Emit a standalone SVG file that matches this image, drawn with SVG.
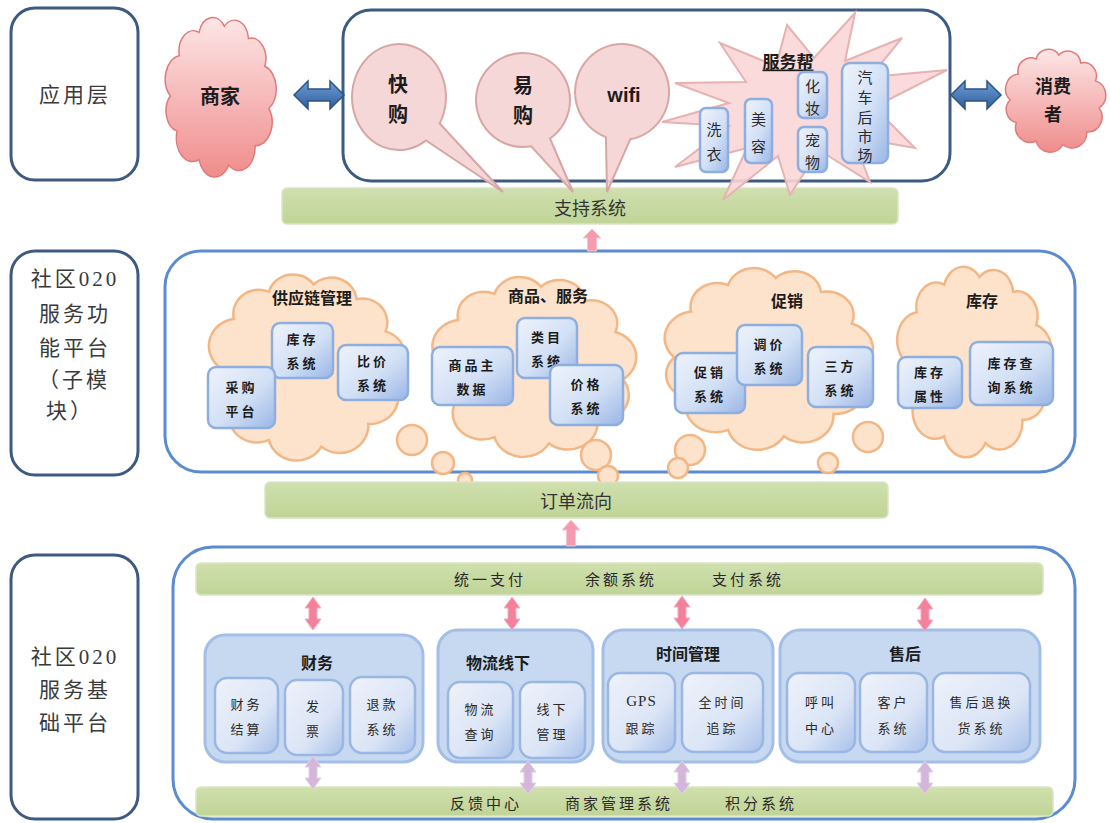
<svg xmlns="http://www.w3.org/2000/svg" width="1110" height="823" viewBox="0 0 1110 823">
<style>
text{font-family:"Noto Sans CJK SC","Noto Sans",sans-serif;fill:#1c1c1c;text-anchor:middle;dominant-baseline:central}
.lbl{fill:#fff;stroke:#3d5a80;stroke-width:3}
.m1{fill:#fff;stroke:#3d5a80;stroke-width:3}
.m2{fill:#fff;stroke:#5b8bd0;stroke-width:3}
.bar{fill:url(#gGreen);stroke:#d8e6c4;stroke-width:1.5}
.peach{fill:#fde3cc;stroke:#f3b685;stroke-width:2.5}
.pinkc{fill:url(#gPink);stroke:#e07a7a;stroke-width:1.5}
.call{fill:#f5d3d3;fill-opacity:.9;stroke:#d9a6a6;stroke-width:2}
.star{fill:#f9d6d6;fill-opacity:.9;stroke:#e6b2b2;stroke-width:2}
.sb{fill:url(#gBox);stroke:#8eaee0;stroke-width:2.5}
.grp{fill:#c6d9f1;stroke:#a4bfe7;stroke-width:3}
.ib{fill:url(#gInner);stroke:#9ab6e3;stroke-width:2.5}
.pk{fill:#f3819b;stroke:#f7aabb;stroke-width:1}
.lv{fill:#d3b6d9;stroke:#e3d0e6;stroke-width:1}
.ba{fill:url(#gBlue);stroke:#2b5488;stroke-width:1.5}
.upa{fill:#f59bb0;stroke:#f8c4d0;stroke-width:1}
.tl{font-family:"Liberation Serif","Noto Sans CJK SC",serif;font-size:21px;fill:#3a3a3a;letter-spacing:3px}
.big{font-size:20px;font-weight:bold}
.vt{font-size:15px;fill:#2a2a2a}
.ct{font-size:16px;font-weight:bold}
.st{font-size:13px;font-weight:bold;letter-spacing:3px}
.bt{font-size:15px;letter-spacing:3px;fill:#2a2a2a}
.gt{font-size:16px;font-weight:bold}
.it{font-size:13px;letter-spacing:3px;fill:#2a2a2a}
.bar1{font-size:18px;fill:#333}
</style>
<defs>
<linearGradient id="gPink" x1="0" y1="0" x2="0" y2="1"><stop offset="0" stop-color="#fde6e6"/><stop offset="1" stop-color="#f08c8c"/></linearGradient>
<linearGradient id="gBox" x1="0" y1="0" x2="1" y2="1"><stop offset="0" stop-color="#eef3fc"/><stop offset="0.55" stop-color="#d2e0f5"/><stop offset="1" stop-color="#9ab6e6"/></linearGradient>
<linearGradient id="gInner" x1="0" y1="0" x2="1" y2="1"><stop offset="0" stop-color="#eef2fa"/><stop offset="0.6" stop-color="#dbe5f6"/><stop offset="1" stop-color="#a9c1ea"/></linearGradient>
<linearGradient id="gGreen" x1="0" y1="0" x2="0" y2="1"><stop offset="0" stop-color="#cfe0ad"/><stop offset="1" stop-color="#c0d497"/></linearGradient>
<linearGradient id="gBlue" x1="0" y1="0" x2="0" y2="1"><stop offset="0" stop-color="#6e9cd6"/><stop offset="1" stop-color="#2f5e9a"/></linearGradient>
<path id="cloud" vector-effect="non-scaling-stroke" d="M10,50 A13,13 0 0 1 17.2,27.6 A11.5,11.5 0 0 1 33.1,14.7 A11.5,11.5 0 0 1 53.5,11.2 A11.5,11.5 0 0 1 73,18.1 A11.5,11.5 0 0 1 86.2,33.5 A13,13 0 0 1 89.4,56.8 A13,13 0 0 1 78.3,77.6 A13,13 0 0 1 57,88.4 A13,13 0 0 1 33.1,85.3 A13,13 0 0 1 15.4,69.5 A11.5,11.5 0 0 1 10,50 Z"/>
<path id="dbl" d="M0,0 L8,11 L4,11 L4,22 L8,22 L0,33 L-8,22 L-4,22 L-4,11 L-8,11 Z"/>
<path id="hdbl" d="M0,0 L14,-14 L14,-6 L36,-6 L36,-14 L50,0 L36,14 L36,6 L14,6 L14,14 Z"/>
</defs>

<!-- left layer labels -->
<g id="layer-app"><rect x="11" y="8" width="127" height="172" rx="24" class="lbl"/><text x="75" y="95" class="tl">应用层</text></g>
<g id="layer-func"><rect x="11" y="251" width="127" height="224" rx="24" class="lbl"/>
<text x="75" y="279" class="tl">社区020</text><text x="75" y="314" class="tl">服务功</text><text x="75" y="348" class="tl">能平台</text><text x="74" y="380" class="tl">（子模</text><text x="70" y="411" class="tl">块）</text></g>
<g id="layer-base"><rect x="11" y="555" width="127" height="264" rx="24" class="lbl"/>
<text x="75" y="657" class="tl">社区020</text><text x="75" y="690" class="tl">服务基</text><text x="75" y="723" class="tl">础平台</text></g>

<!-- application layer -->
<g id="app-box"><rect x="343" y="10" width="607" height="171" rx="28" class="m1"/></g>
<g id="support-bar"><rect x="282" y="188" width="616" height="36" rx="5" class="bar"/><text x="590" y="207" class="bar1">支持系统</text></g>
<g id="merchant"><use href="#cloud" class="pinkc" transform="translate(158,6) scale(1.24,1.8)"/><text x="220" y="95" class="big">商家</text></g>
<g id="consumer"><use href="#cloud" class="pinkc" transform="translate(999,42) scale(1.12,1.16)"/><text x="1053" y="85" class="big" style="font-size:18px">消费</text><text x="1053" y="113" class="big" style="font-size:18px">者</text></g>
<g id="fuwubang">
<polygon class="star" points="855,13 845,61 902,38 870,77 947,70 874,107 915,148 853,137 870,182 819,150 790,195 778,156 723,200 747,148 675,167 729,126 662,122 729,103 675,83 746,82 720,43 776,66 787,25 814,58"/>
<text x="788" y="60" style="font-size:17px;font-weight:bold;text-decoration:underline">服务帮</text>
<rect x="700" y="108" width="28" height="64" rx="6" class="sb"/><text x="714" y="128" class="vt">洗</text><text x="714" y="153" class="vt">衣</text>
<rect x="745" y="99" width="27" height="64" rx="6" class="sb"/><text x="758.5" y="118" class="vt">美</text><text x="758.5" y="145" class="vt">容</text>
<rect x="798" y="72" width="29" height="46" rx="6" class="sb"/><text x="812.5" y="85" class="vt">化</text><text x="812.5" y="107" class="vt">妆</text>
<rect x="798" y="127" width="29" height="45" rx="6" class="sb"/><text x="812.5" y="139" class="vt">宠</text><text x="812.5" y="161" class="vt">物</text>
<rect x="842" y="63" width="46" height="100" rx="8" class="sb"/><text x="865" y="76" class="vt">汽</text><text x="865" y="96" class="vt">车</text><text x="865" y="116" class="vt">后</text><text x="865" y="135" class="vt">市</text><text x="865" y="154" class="vt">场</text>
</g>
<g id="kuaigou"><path class="call" d="M426,140.4 A47,53 0 1 1 439.7,123.5 L503,192 Z"/><text x="398" y="83" class="big">快</text><text x="398" y="113" class="big">购</text></g>
<g id="yigou"><path class="call" d="M531.2,146.3 A47,47 0 1 1 550,138.5 L573,192 Z"/><text x="523" y="84" class="big">易</text><text x="523" y="114" class="big">购</text></g>
<g id="wifi"><path class="call" d="M605.9,137.1 A47,48 0 1 1 630.2,139.3 L607,192 Z"/><text x="624" y="95" style="font-family:'Liberation Sans',Arial,sans-serif;font-size:20px;font-weight:bold">wifi</text></g>

<!-- function platform -->
<g id="func-box"><rect x="165" y="251" width="910" height="221" rx="36" class="m2"/></g>
<g id="supply-chain">
<use href="#cloud" class="peach" transform="translate(196,261) scale(2.2,2.1)"/>
<circle cx="412" cy="440" r="15" class="peach"/><circle cx="443" cy="463" r="11" class="peach"/><circle cx="465" cy="480" r="7" class="peach"/>
<text x="312" y="297" class="ct">供应链管理</text>
<rect x="272" y="323" width="61" height="55" rx="8" class="sb"/><text x="302.5" y="338.5" class="st">库存</text><text x="302.5" y="362.5" class="st">系统</text>
<rect x="338" y="345" width="70" height="55" rx="8" class="sb"/><text x="373" y="360.5" class="st">比价</text><text x="373" y="384.5" class="st">系统</text>
<rect x="208" y="367" width="67" height="61" rx="8" class="sb"/><text x="241.5" y="386" class="st">采购</text><text x="241.5" y="410" class="st">平台</text>
</g>
<g id="goods-service">
<use href="#cloud" class="peach" transform="translate(419,264) scale(2.28,2.03)"/>
<circle cx="596" cy="455" r="15" class="peach"/><circle cx="608" cy="476" r="10" class="peach"/>
<text x="548" y="295" class="ct">商品、服务</text>
<rect x="432" y="347" width="81" height="58" rx="8" class="sb"/><text x="472.5" y="364" class="st">商品主</text><text x="472.5" y="388" class="st">数据</text>
<rect x="517" y="318" width="60" height="60" rx="8" class="sb"/><text x="547" y="336" class="st">类目</text><text x="547" y="360" class="st">系统</text>
<rect x="550" y="365" width="73" height="60" rx="8" class="sb"/><text x="586.5" y="383" class="st">价格</text><text x="586.5" y="407" class="st">系统</text>
</g>
<g id="promotion">
<use href="#cloud" class="peach" transform="translate(651,255) scale(2.33,2.05)"/>
<circle cx="690" cy="450" r="15" class="peach"/><circle cx="678" cy="468" r="10" class="peach"/>
<circle cx="868" cy="437" r="15" class="peach"/><circle cx="828" cy="463" r="10" class="peach"/>
<text x="787" y="300" class="ct">促销</text>
<rect x="675" y="353" width="70" height="60" rx="8" class="sb"/><text x="710" y="371" class="st">促销</text><text x="710" y="395" class="st">系统</text>
<rect x="737" y="325" width="65" height="60" rx="8" class="sb"/><text x="769.5" y="343" class="st">调价</text><text x="769.5" y="367" class="st">系统</text>
<rect x="808" y="347" width="65" height="60" rx="8" class="sb"/><text x="840.5" y="365" class="st">三方</text><text x="840.5" y="389" class="st">系统</text>
</g>
<g id="inventory">
<use href="#cloud" class="peach" transform="translate(887,253) scale(1.73,2.15)"/>
<text x="982" y="300" class="ct">库存</text>
<rect x="898" y="357" width="64" height="51" rx="8" class="sb"/><text x="930" y="371" class="st">库存</text><text x="930" y="395" class="st">属性</text>
<rect x="970" y="342" width="83" height="63" rx="8" class="sb"/><text x="1011.5" y="362" class="st">库存查</text><text x="1011.5" y="386" class="st">询系统</text>
</g>
<g id="order-bar"><rect x="265" y="482" width="623" height="36" rx="5" class="bar"/><text x="576" y="500" class="bar1">订单流向</text></g>

<!-- base platform -->
<g id="base-box"><rect x="173" y="547" width="902" height="272" rx="40" class="m2"/></g>
<g id="pay-bar"><rect x="196" y="563" width="847" height="32" rx="5" class="bar"/>
<text x="490" y="578" class="bt">统一支付</text><text x="621" y="578" class="bt">余额系统</text><text x="748" y="578" class="bt">支付系统</text></g>
<g id="feedback-bar"><rect x="196" y="787" width="857" height="29" rx="5" class="bar"/>
<text x="486" y="802" class="bt">反馈中心</text><text x="619" y="802" class="bt">商家管理系统</text><text x="761" y="802" class="bt">积分系统</text></g>

<g id="finance"><rect x="205" y="635" width="218" height="127" rx="20" class="grp"/><text x="317" y="662" class="gt">财务</text>
<rect x="215" y="678" width="63" height="75" rx="12" class="ib"/><text x="246.5" y="703" class="it">财务</text><text x="246.5" y="728" class="it">结算</text>
<rect x="285" y="680" width="58" height="75" rx="12" class="ib"/><text x="314" y="705" class="it">发</text><text x="314" y="730" class="it">票</text>
<rect x="350" y="677" width="65" height="76" rx="12" class="ib"/><text x="382.5" y="703" class="it">退款</text><text x="382.5" y="728" class="it">系统</text></g>
<g id="logistics"><rect x="438" y="630" width="155" height="132" rx="20" class="grp"/><text x="498" y="662" class="gt">物流线下</text>
<rect x="448" y="682" width="65" height="76" rx="12" class="ib"/><text x="480.5" y="708" class="it">物流</text><text x="480.5" y="733" class="it">查询</text>
<rect x="520" y="682" width="65" height="76" rx="12" class="ib"/><text x="552.5" y="708" class="it">线下</text><text x="552.5" y="733" class="it">管理</text></g>
<g id="time-mgmt"><rect x="603" y="630" width="170" height="132" rx="20" class="grp"/><text x="688" y="653" class="gt">时间管理</text>
<rect x="608" y="673" width="67" height="79" rx="12" class="ib"/><text x="641.5" y="701" class="it" style="font-family:'Liberation Serif',serif;font-size:15px;letter-spacing:1px">GPS</text><text x="641.5" y="727" class="it">跟踪</text>
<rect x="682" y="673" width="81" height="79" rx="12" class="ib"/><text x="722.5" y="701" class="it">全时间</text><text x="722.5" y="727" class="it">追踪</text></g>
<g id="after-sale"><rect x="780" y="630" width="260" height="132" rx="20" class="grp"/><text x="905" y="653" class="gt">售后</text>
<rect x="787" y="673" width="68" height="79" rx="12" class="ib"/><text x="821" y="701" class="it">呼叫</text><text x="821" y="727" class="it">中心</text>
<rect x="860" y="673" width="67" height="79" rx="12" class="ib"/><text x="893.5" y="701" class="it">客户</text><text x="893.5" y="727" class="it">系统</text>
<rect x="933" y="673" width="97" height="79" rx="12" class="ib"/><text x="981.5" y="701" class="it">售后退换</text><text x="981.5" y="727" class="it">货系统</text></g>

<!-- connectors -->
<g id="connectors">
<use href="#hdbl" class="ba" transform="translate(294,95)"/>
<use href="#hdbl" class="ba" transform="translate(951,95)"/>
<path class="upa" d="M592,229 L601,238 L596.5,238 L596.5,251 L587.5,251 L587.5,238 L583,238 Z"/>
<path class="upa" d="M571,520 L580,530 L575.5,530 L575.5,546 L566.5,546 L566.5,530 L562,530 Z"/>
<use href="#dbl" class="pk" transform="translate(313,597)"/>
<use href="#dbl" class="pk" transform="translate(512,597)"/>
<use href="#dbl" class="pk" transform="translate(682,596)"/>
<use href="#dbl" class="pk" transform="translate(925,598)"/>
<use href="#dbl" class="lv" transform="translate(313,756)"/>
<use href="#dbl" class="lv" transform="translate(528,761)"/>
<use href="#dbl" class="lv" transform="translate(682,761)"/>
<use href="#dbl" class="lv" transform="translate(925,761)"/>
</g>
</svg>
